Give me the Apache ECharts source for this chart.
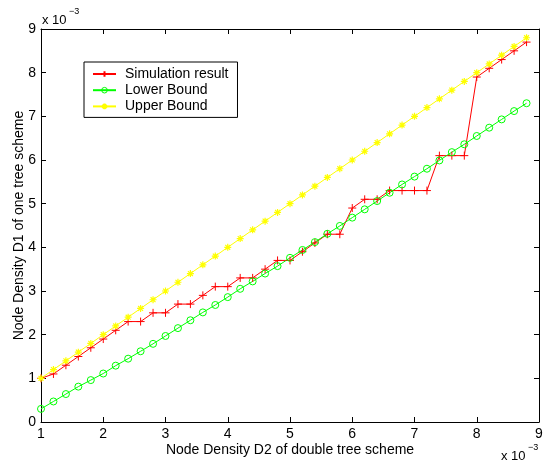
<!DOCTYPE html>
<html><head><meta charset="utf-8">
<script src="https://cdn.jsdelivr.net/npm/echarts@6/dist/echarts.min.js"></script>
<style>html,body{margin:0;padding:0;background:#fff}#c{width:544px;height:462px}</style>
</head><body><div id="c"></div>
<script>
const xValues = [1.0,1.2,1.4,1.6,1.8,2.0,2.2,2.4,2.6,2.8,3.0,3.2,3.4,3.6,3.8,4.0,4.2,4.4,4.6,4.8,5.0,5.2,5.4,5.6,5.8,6.0,6.2,6.4,6.6,6.8,7.0,7.2,7.4,7.6,7.8,8.0,8.2,8.4,8.6,8.8];
const simulation = [1.0,1.1,1.3,1.5,1.7,1.9,2.1,2.3,2.3,2.5,2.5,2.7,2.7,2.9,3.1,3.1,3.3,3.3,3.5,3.7,3.7,3.9,4.1,4.3,4.3,4.9,5.1,5.1,5.3,5.3,5.3,5.3,6.1,6.1,6.1,7.9,8.1,8.3,8.5,8.7];
const lowerBound = [0.30,0.47,0.64,0.81,0.96,1.11,1.29,1.45,1.62,1.79,1.97,2.15,2.33,2.51,2.68,2.86,3.05,3.22,3.40,3.57,3.76,3.94,4.12,4.31,4.49,4.68,4.87,5.06,5.25,5.44,5.62,5.80,5.99,6.18,6.36,6.55,6.74,6.93,7.12,7.30];
const upperBound = [1.0,1.2,1.4,1.6,1.8,2.0,2.2,2.4,2.6,2.8,3.0,3.2,3.4,3.6,3.8,4.0,4.2,4.4,4.6,4.8,5.0,5.2,5.4,5.6,5.8,6.0,6.2,6.4,6.6,6.8,7.0,7.2,7.4,7.6,7.8,8.0,8.2,8.4,8.6,8.8];
const seriesNames = ['Simulation result','Lower Bound','Upper Bound'];
const xName = 'Node Density D2 of double tree scheme';
const yName = 'Node Density D1 of one tree scheme';

const FONT = 'Liberation Sans, Arial, sans-serif';
const pairs = ys => xValues.map((x, i) => [x, ys[i]]);

function axisBase(extra) {
  return Object.assign({
    type: 'value',
    axisLine: { show: true, onZero: false, lineStyle: { color: '#000', width: 1 } },
    axisTick: { show: true, inside: true, length: 5, lineStyle: { color: '#000' } },
    axisLabel: { color: '#000', fontSize: 14, fontFamily: FONT, margin: 5 },
    splitLine: { show: false }
  }, extra);
}

const chart = echarts.init(document.getElementById('c'), null, { renderer: 'canvas' });
chart.setOption({
  animation: false,
  backgroundColor: '#fff',
  grid: { left: 41, right: 5, top: 29, bottom: 40, containLabel: false, outerBoundsMode: 'none' },
  xAxis: [
    axisBase({ min: 1, max: 9, interval: 1, position: 'bottom',
      name: xName, nameLocation: 'middle', nameGap: 21, nameMoveOverlap: false,
      nameTextStyle: { color: '#000', fontSize: 14, fontFamily: FONT } }),
    axisBase({ min: 1, max: 9, interval: 1, position: 'top', axisLabel: { show: false } })
  ],
  yAxis: [
    axisBase({ min: 0, max: 9, interval: 1, position: 'left',
      name: yName, nameLocation: 'middle', nameGap: 15, nameMoveOverlap: false,
      nameTextStyle: { color: '#000', fontSize: 14, fontFamily: FONT } }),
    axisBase({ min: 0, max: 9, interval: 1, position: 'right', axisLabel: { show: false } })
  ],
  legend: {
    orient: 'vertical', left: 84, top: 62,
    backgroundColor: '#fff', borderColor: '#000', borderWidth: 1, borderRadius: 0,
    padding: [5, 9, 4, 8], itemGap: 2.2, itemWidth: 23, itemHeight: 7,
    textStyle: { color: '#000', fontSize: 14, fontFamily: FONT, padding: [0, 0, 0, 4] },
    data: [
      { name: seriesNames[0] },
      { name: seriesNames[1], itemStyle: { color: 'rgba(0,0,0,0)', borderColor: '#00ff00', borderWidth: 1 } },
      { name: seriesNames[2] }
    ]
  },
  series: [
    {
      name: seriesNames[0], type: 'line', data: pairs(simulation),
      symbol: 'path://M0,5L10,5M5,0L5,10', symbolSize: 8,
      lineStyle: { color: '#ff0000', width: 1 },
      itemStyle: { color: '#ff0000', borderColor: '#ff0000', borderWidth: 1 }
    },
    {
      name: seriesNames[1], type: 'line', data: pairs(lowerBound),
      symbol: 'circle', symbolSize: 7,
      lineStyle: { color: '#00ff00', width: 1 },
      itemStyle: { color: 'rgba(0,0,0,0)', borderColor: '#00ff00', borderWidth: 1 }
    },
    {
      name: seriesNames[2], type: 'line', data: pairs(upperBound),
      symbol: 'path://M0,5L10,5M5,0L5,10M1.5,1.5L8.5,8.5M1.5,8.5L8.5,1.5', symbolSize: 7,
      lineStyle: { color: '#ffff00', width: 1 },
      itemStyle: { color: '#ffff00', borderColor: '#ffff00', borderWidth: 1.2 }
    }
  ],
  graphic: [
    { type: 'text', left: 42, top: 14, style: { text: 'x 10', fontSize: 13, fontFamily: FONT, fill: '#000' } },
    { type: 'text', left: 69, top: 7, style: { text: '−3', fontSize: 9, fontFamily: FONT, fill: '#000' } },
    { type: 'text', left: 501, top: 450, style: { text: 'x 10', fontSize: 13, fontFamily: FONT, fill: '#000' } },
    { type: 'text', left: 528, top: 443, style: { text: '−3', fontSize: 9, fontFamily: FONT, fill: '#000' } }
  ]
});
</script>
</body></html>
